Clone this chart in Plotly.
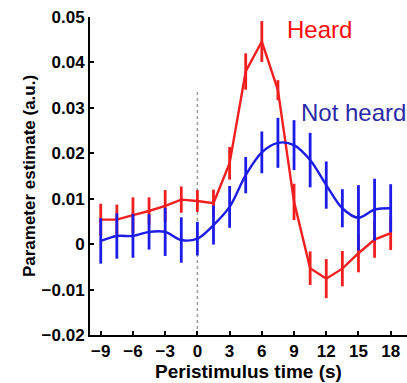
import plotly.graph_objects as go

time_s = [-9, -7.5, -6, -4.5, -3, -1.5, 0, 1.5, 3, 4.5, 6, 7.5, 9, 10.5, 12, 13.5, 15, 16.5, 18]
heard = [0.0054, 0.0054, 0.0064, 0.0073, 0.0084, 0.0098, 0.0095, 0.0090, 0.0178, 0.0380, 0.0446,
         0.0339, 0.0093, -0.0053, -0.0076, -0.0054, -0.0020, 0.0010, 0.0024]
heard_err = [0.0035, 0.0033, 0.0039, 0.0030, 0.0035, 0.0029, 0.0024, 0.0030, 0.0036, 0.0040, 0.0045,
             0.0022, 0.0040, 0.0037, 0.0043, 0.0039, 0.0042, 0.0040, 0.0037]
not_heard = [0.0007, 0.0018, 0.0018, 0.0027, 0.0027, 0.0009, 0.0012, 0.0042, 0.0082, 0.0152, 0.0202,
             0.0223, 0.0218, 0.0185, 0.0130, 0.0079, 0.0058, 0.0076, 0.0079]
not_heard_err = [0.0050, 0.0050, 0.0048, 0.0039, 0.0053, 0.0050, 0.0037, 0.0043, 0.0046, 0.0040, 0.0046,
                 0.0055, 0.0055, 0.0060, 0.0052, 0.0042, 0.0072, 0.0068, 0.0053]

x_ticks = [-9, -6, -3, 0, 3, 6, 9, 12, 15, 18]
x_ticktext = ["\u22129", "\u22126", "\u22123", "0", "3", "6", "9", "12", "15", "18"]
y_ticks = [-0.02, -0.01, 0, 0.01, 0.02, 0.03, 0.04, 0.05]
y_ticktext = ["\u22120.02", "\u22120.01", "0", "0.01", "0.02", "0.03", "0.04", "0.05"]

stim_line_x = [0, 0]
stim_line_y = [-0.02, 0.034]

RED = "#f01e1e"
BLUE = "#1c1ce6"

fig = go.Figure()
fig.add_trace(go.Scatter(x=stim_line_x, y=stim_line_y, mode="lines",
                         line=dict(color="#9a9a9a", width=1.5, dash="dot"), showlegend=False))
fig.add_trace(go.Scatter(x=time_s, y=heard, mode="lines",
                         line=dict(color=RED, width=2.4),
                         error_y=dict(type="data", array=heard_err, color=RED, thickness=2.8, width=0),
                         showlegend=False))
fig.add_trace(go.Scatter(x=time_s, y=not_heard, mode="lines",
                         line=dict(color=BLUE, width=2.4, shape="spline", smoothing=0.9),
                         error_y=dict(type="data", array=not_heard_err, color=BLUE, thickness=2.8, width=0),
                         showlegend=False))

fig.add_annotation(x=11.4, y=0.0473, text="Heard", showarrow=False,
                   font=dict(family="Liberation Sans, Arial", size=24, color="#ff0a0a"))
fig.add_annotation(x=14.5, y=0.0290, text="Not heard", showarrow=False,
                   font=dict(family="Liberation Sans, Arial", size=24, color="#2b2ba8"))

tick_font = dict(family="Liberation Sans, Arial", size=17, color="black", weight="bold")

fig.update_xaxes(range=[-10, 19.52], tickvals=x_ticks, ticktext=x_ticktext,
                 showline=True, linecolor="black", linewidth=2, mirror=False,
                 ticks="inside", ticklen=4, tickwidth=1.5, tickcolor="black",
                 showgrid=False, zeroline=False, tickfont=tick_font,
                 title=dict(text="Peristimulus time (s)", standoff=2,
                            font=dict(family="Liberation Sans, Arial", size=19, color="black", weight="bold")))
fig.update_yaxes(range=[-0.02, 0.05], tickvals=y_ticks, ticktext=y_ticktext,
                 showline=True, linecolor="black", linewidth=2, mirror=False,
                 ticks="inside", ticklen=4, tickwidth=1.5, tickcolor="black",
                 showgrid=False, zeroline=False, tickfont=tick_font,
                 title=dict(text="Parameter estimate (a.u.)", standoff=2,
                            font=dict(family="Liberation Sans, Arial", size=17, color="black", weight="bold")))

fig.update_layout(width=407, height=383, margin=dict(l=90, r=0, t=17, b=48),
                  plot_bgcolor="white", paper_bgcolor="white")

fig.write_html("out.html")
